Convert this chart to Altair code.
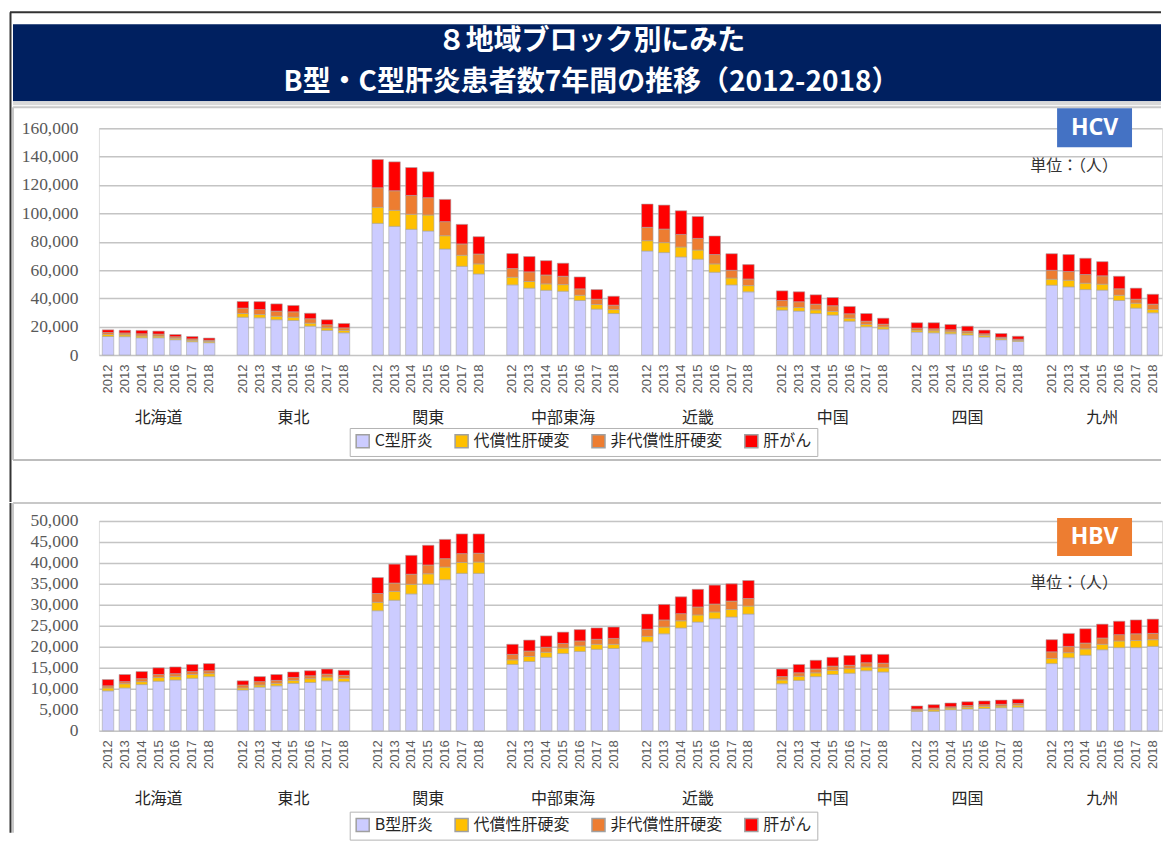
import altair as alt
import pandas as pd

regions = ["北海道", "東北", "関東", "中部東海", "近畿", "中国", "四国", "九州"]
years = ["2012", "2013", "2014", "2015", "2016", "2017", "2018"]

hcv_cats = ["C型肝炎", "代償性肝硬変", "非代償性肝硬変", "肝がん"]
hbv_cats = ["B型肝炎", "代償性肝硬変", "非代償性肝硬変", "肝がん"]
colors = ["#CCCCFF", "#FFC000", "#ED7D31", "#FF0000"]

# ---------------- HCV (persons) ----------------
hcv_hepatitis = {
    "北海道": [13100, 13000, 12200, 12200, 10800, 9400, 8700],
    "東北": [26700, 26300, 24900, 24400, 20400, 17400, 15700],
    "関東": [92900, 90800, 88700, 87500, 74800, 62600, 57200],
    "中部東海": [49500, 47200, 45700, 45000, 38500, 32400, 29300],
    "近畿": [73400, 72300, 69200, 67600, 58400, 49500, 44600],
    "中国": [31700, 31000, 29300, 28200, 23900, 19900, 18300],
    "四国": [16200, 15700, 15000, 14100, 12700, 10800, 9600],
    "九州": [49300, 48100, 46200, 45800, 38500, 33100, 29800],
}
hcv_comp = {
    "北海道": [1400, 1300, 1300, 1200, 1000, 1000, 900],
    "東北": [2600, 2300, 2500, 2300, 2100, 1800, 1700],
    "関東": [11300, 11300, 10600, 11300, 9400, 7800, 7100],
    "中部東海": [5400, 4700, 4500, 4700, 3700, 3300, 2800],
    "近畿": [7300, 7000, 7000, 6500, 5900, 4900, 4400],
    "中国": [2300, 2600, 2600, 2600, 2100, 1700, 1600],
    "四国": [1400, 1400, 1400, 1400, 1200, 900, 700],
    "九州": [4200, 4700, 4500, 4200, 3700, 3500, 2300],
}
hcv_decomp = {
    "北海道": [1400, 1300, 1500, 1400, 1100, 1000, 900],
    "東北": [3800, 3500, 3600, 3800, 3100, 2200, 1800],
    "関東": [13800, 13800, 13300, 12200, 9900, 8000, 7000],
    "中部東海": [6100, 6800, 6300, 5900, 4500, 3700, 3100],
    "近畿": [9400, 9600, 8900, 8200, 6600, 5400, 4700],
    "中国": [4500, 4000, 4000, 4000, 3100, 2300, 1900],
    "四国": [1400, 1400, 1400, 1400, 1100, 900, 900],
    "九州": [6300, 6100, 6100, 5900, 4500, 2800, 3800],
}
hcv_hcc = {
    "北海道": [1900, 1900, 2400, 2100, 1600, 1700, 1500],
    "東北": [4700, 5600, 5100, 4500, 3900, 3500, 3100],
    "関東": [20000, 20400, 19700, 18300, 15700, 13800, 12200],
    "中部東海": [10600, 10800, 10100, 9200, 8400, 6800, 6300],
    "近畿": [16400, 16900, 16700, 15500, 13100, 11700, 10100],
    "中国": [6800, 7000, 6600, 5800, 5200, 5400, 4200],
    "四国": [3800, 4300, 3800, 3500, 2600, 2600, 2100],
    "九州": [11700, 12000, 11500, 10000, 8900, 7800, 7000],
}

# ---------------- HBV (persons) ----------------
hbv_hepatitis = {
    "北海道": [9500, 10200, 11000, 11800, 12100, 12500, 12900],
    "東北": [9700, 10400, 10700, 11300, 11500, 11900, 11700],
    "関東": [28600, 31100, 32600, 34900, 36000, 37500, 37500],
    "中部東海": [15800, 16500, 17500, 18400, 18900, 19400, 19600],
    "近畿": [21200, 23100, 24500, 25900, 26700, 27100, 27800],
    "中国": [11200, 12000, 12900, 13400, 13700, 14300, 14000],
    "四国": [4600, 4600, 5000, 5200, 5300, 5500, 5600],
    "九州": [16000, 17400, 18000, 19300, 19800, 19800, 20100],
}
hbv_comp = {
    "北海道": [700, 1000, 700, 900, 800, 900, 700],
    "東北": [500, 500, 600, 700, 900, 900, 800],
    "関東": [2000, 2100, 2300, 2500, 3000, 2600, 2700],
    "中部東海": [1100, 1200, 1200, 1300, 1300, 1200, 1000],
    "近畿": [1300, 1600, 1700, 1700, 1600, 1800, 1900],
    "中国": [900, 1000, 900, 1000, 1100, 900, 1000],
    "四国": [300, 400, 400, 400, 500, 400, 500],
    "九州": [1200, 1200, 1500, 1300, 1600, 1700, 1600],
}
hbv_decomp = {
    "北海道": [500, 500, 700, 700, 700, 700, 700],
    "東北": [700, 800, 700, 700, 700, 700, 700],
    "関東": [2100, 2000, 2400, 2100, 2000, 2100, 2100],
    "中部東海": [1300, 1300, 1200, 1100, 1200, 1200, 1400],
    "近畿": [1700, 1700, 1700, 1900, 1900, 2000, 1800],
    "中国": [800, 800, 900, 1000, 800, 1000, 1100],
    "四国": [300, 400, 300, 400, 400, 400, 400],
    "九州": [1600, 1500, 1400, 1500, 1500, 1600, 1500],
}
hbv_hcc = {
    "北海道": [1500, 1700, 1700, 1600, 1600, 1700, 1700],
    "東北": [1000, 1200, 1400, 1300, 1200, 1200, 1200],
    "関東": [3800, 4500, 4500, 4700, 4600, 4700, 4600],
    "中部東海": [2400, 2600, 2700, 2700, 2700, 2700, 2700],
    "近畿": [3600, 3700, 4000, 4200, 4500, 4100, 4300],
    "中国": [1800, 2000, 2100, 2100, 2300, 2000, 2100],
    "四国": [700, 800, 900, 900, 900, 1000, 1000],
    "九州": [2900, 3100, 3400, 3300, 3200, 3300, 3400],
}

title_line1 = "８地域ブロック別にみた"
title_line2 = "B型・C型肝炎患者数7年間の推移（2012-2018）"
unit_text = "単位：（人）"

JP = "Noto Sans CJK JP"


def build(series, cats):
    rows = []
    for r in regions:
        for i, y in enumerate(years):
            for k, (cat, src) in enumerate(zip(cats, series)):
                rows.append({"key": f"{r}|{y}", "cat": cat, "ord": k, "value": src[r][i]})
    return pd.DataFrame(rows)


domain = []
for i, r in enumerate(regions):
    if i > 0:
        domain.append(f"sp{i}")
    domain += [f"{r}|{y}" for y in years]

one = pd.DataFrame({"a": [0]})


def rect(x, x2, y, y2, **kw):
    return alt.Chart(one).mark_rect(**kw).encode(
        x=alt.value(x), x2=alt.value(x2), y=alt.value(y), y2=alt.value(y2))


def rule(x, x2, y, y2, **kw):
    return alt.Chart(one).mark_rule(**kw).encode(
        x=alt.value(x), x2=alt.value(x2), y=alt.value(y), y2=alt.value(y2))


def text(x, y, s, **kw):
    return alt.Chart(one).mark_text(**kw).encode(
        x=alt.value(x), y=alt.value(y), text=alt.value(s))


W = 1064
XR = 1063  # right edge of decorations (relative)


def panel(df, cats, ymax, ystep, region_y, legend_y, label_pad):
    xaxis = alt.Axis(
        labelExpr="indexof(datum.value, '|') >= 0 ? split(datum.value, '|')[1] : ''",
        labelAngle=270, labelFont="Liberation Sans", labelFontSize=13,
        labelColor="#595959", labelPadding=label_pad, ticks=False, domain=False,
        grid=False, title=None)
    xsc = alt.Scale(domain=domain, paddingInner=0.32, paddingOuter=0.2)
    bars = alt.Chart(df).mark_bar(stroke="#a6a6a6", strokeWidth=0.6).encode(
        x=alt.X("key:N", scale=xsc, axis=xaxis, title=None),
        y=alt.Y("value:Q", stack="zero",
                scale=alt.Scale(domain=[0, ymax], nice=False, zero=True),
                title=None,
                axis=alt.Axis(values=list(range(0, ymax + 1, ystep)),
                              labelExpr="format(datum.value, ',')",
                              labelFont="Liberation Serif", labelFontSize=17.5,
                              labelColor="#595959", labelPadding=21, ticks=False,
                              domain=False, gridColor="#c4c4c4", gridWidth=1.5,
                              title=None)),
        color=alt.Color("cat:N", scale=alt.Scale(domain=cats, range=colors),
                        legend=alt.Legend(
                            orient="none", legendX=251, legendY=legend_y,
                            direction="horizontal", title=None,
                            symbolType="square", symbolSize=170,
                            symbolStrokeColor="#a0a0a0", symbolStrokeWidth=1.5,
                            labelFont=JP, labelFontSize=16, labelColor="#262626",
                            labelOffset=4, columnPadding=18, padding=5,
                            strokeColor="#b4b4b4", fillColor="white")),
        order=alt.Order("ord:Q", sort="ascending"),
    )
    reg_df = pd.DataFrame({"key": [f"{r}|2015" for r in regions], "label": regions})
    regs = alt.Chart(reg_df).mark_text(font=JP, fontSize=16, color="#262626").encode(
        x=alt.X("key:N", scale=xsc, axis=xaxis, title=None),
        y=alt.value(region_y),
        text="label:N",
    )
    return bars, regs


# ---------------- HCV panel ----------------
hcv_df = build([hcv_hepatitis, hcv_comp, hcv_decomp, hcv_hcc], hcv_cats)
hcv_bars, hcv_regs = panel(hcv_df, hcv_cats, 160000, 20000, 290, 300, 9)

hcv = alt.layer(
    hcv_bars,
    # outer slide frame
    rule(-88.5, -88.5, -116, 374, color="#333333", strokeWidth=2),
    rule(-89, XR, -116, -116, color="#333333", strokeWidth=2),
    # title bar
    rect(-86, XR, -104, -27, color="#002060"),
    rect(-86, XR, -27, -23, color="#d9d9d9"),
    text(493, -86, title_line1, font=JP, fontSize=28, fontWeight="bold", color="white"),
    text(493, -45, title_line2, font=JP, fontSize=28, fontWeight="bold", color="white"),
    # panel border
    rule(-86, XR, -21, -21, color="#c8c8c8", strokeWidth=2),
    rule(-86, -86, -21, 332, color="#c8c8c8", strokeWidth=2),
    rule(-86, XR, 332, 332, color="#bdbdbd", strokeWidth=2),
    hcv_regs,
    rect(959, 1034, -20, 19, color="#4472C4"),
    text(996.5, 0, "HCV", font="Noto Sans", fontSize=23, fontWeight="bold", color="white"),
    text(976, 38, unit_text, font=JP, fontSize=16, color="#333333"),
).properties(width=W, height=227)

# ---------------- HBV panel ----------------
hbv_df = build([hbv_hepatitis, hbv_comp, hbv_decomp, hbv_hcc], hbv_cats)
hbv_bars, hbv_regs = panel(hbv_df, hbv_cats, 50000, 5000, 278, 291, 9)

hbv = alt.layer(
    hbv_bars,
    rule(-88.5, -88.5, -18, 312, color="#333333", strokeWidth=2),
    rule(-86, XR, -18, -18, color="#c8c8c8", strokeWidth=2),
    rule(-86, -86, -18, 312, color="#c8c8c8", strokeWidth=2),
    hbv_regs,
    rect(959, 1034, -3, 35, color="#ED7D31"),
    text(996.5, 16, "HBV", font="Noto Sans", fontSize=23, fontWeight="bold", color="white"),
    text(976, 62, unit_text, font=JP, fontSize=16, color="#333333"),
).properties(width=W, height=210)

chart = alt.vconcat(hcv, hbv, spacing=-3).resolve_scale(
    x="independent", y="independent", color="independent"
).resolve_legend(color="independent").properties(
    padding={"left": 0, "top": 2, "right": 0, "bottom": 0}
).configure_view(stroke=None).configure(background="white")

chart.save("out.html", embed_options={"renderer": "svg", "actions": False})
